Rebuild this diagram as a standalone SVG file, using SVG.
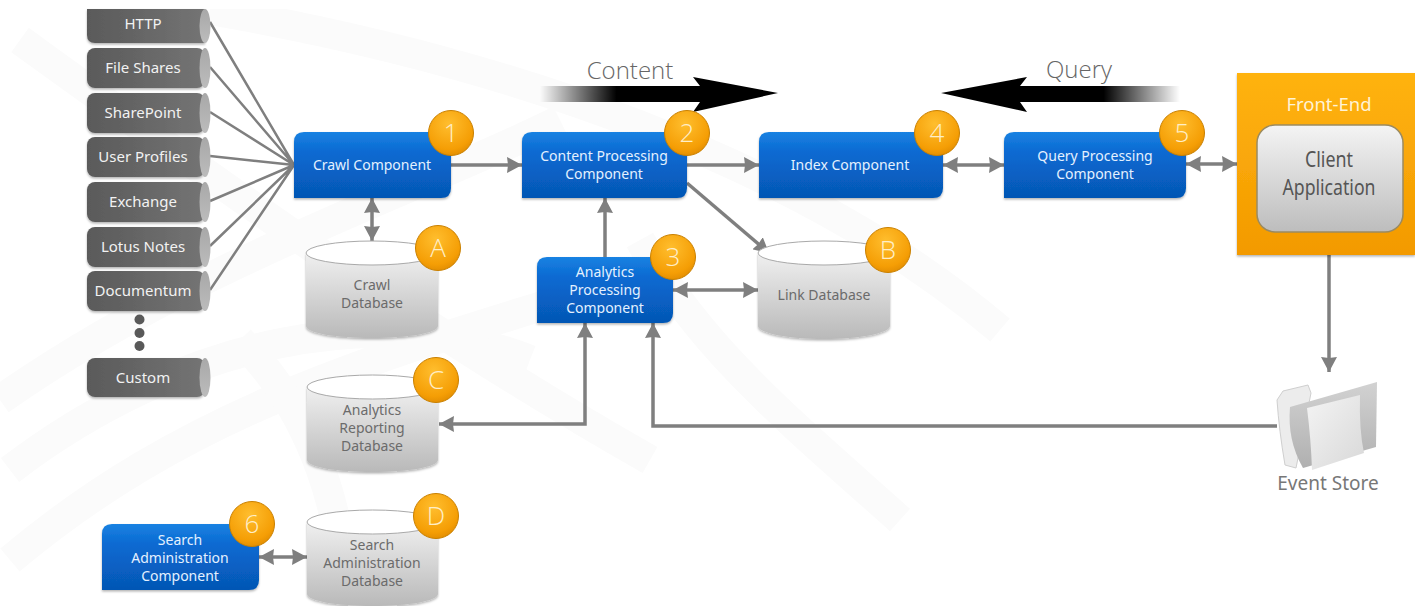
<svg xmlns="http://www.w3.org/2000/svg" width="1415" height="606" viewBox="0 0 1415 606">
<defs>
<linearGradient id="gBlue" x1="0" y1="0" x2="0" y2="1"><stop offset="0" stop-color="#1a82e2"/><stop offset="0.3" stop-color="#0a6ad2"/><stop offset="1" stop-color="#0556b4"/></linearGradient>
<linearGradient id="gPill" x1="0" y1="0" x2="1" y2="0"><stop offset="0" stop-color="#5a5a5a"/><stop offset="1" stop-color="#747474"/></linearGradient>
<linearGradient id="gCap" x1="0" y1="0" x2="0" y2="1"><stop offset="0" stop-color="#a8a8a8"/><stop offset="1" stop-color="#bcbcbc"/></linearGradient>
<linearGradient id="gDb" x1="0" y1="0" x2="0" y2="1"><stop offset="0" stop-color="#f0f0f0"/><stop offset="1" stop-color="#b9b9b9"/></linearGradient>
<linearGradient id="gFront" x1="0" y1="0" x2="0" y2="1"><stop offset="0" stop-color="#ffb30f"/><stop offset="1" stop-color="#f39a00"/></linearGradient>
<linearGradient id="gClient" x1="0" y1="0" x2="0" y2="1"><stop offset="0" stop-color="#f4f4f4"/><stop offset="1" stop-color="#bdbdbd"/></linearGradient>
<radialGradient id="gBadge" cx="0.45" cy="0.3" r="0.8"><stop offset="0" stop-color="#ffbe2e"/><stop offset="0.7" stop-color="#f59e05"/><stop offset="1" stop-color="#d98500"/></radialGradient>
<linearGradient id="gBarR" x1="0" y1="0" x2="1" y2="0"><stop offset="0" stop-color="#000" stop-opacity="0"/><stop offset="0.45" stop-color="#000"/><stop offset="1" stop-color="#000"/></linearGradient>
<linearGradient id="gBarL" x1="1" y1="0" x2="0" y2="0"><stop offset="0" stop-color="#000" stop-opacity="0"/><stop offset="0.45" stop-color="#000"/><stop offset="1" stop-color="#000"/></linearGradient>
<linearGradient id="gFolder" x1="0" y1="0" x2="0" y2="1"><stop offset="0" stop-color="#d2d2d2"/><stop offset="1" stop-color="#b0b0b0"/></linearGradient>
<linearGradient id="gPaper" x1="0" y1="0" x2="1" y2="1"><stop offset="0" stop-color="#f4f4f4"/><stop offset="1" stop-color="#d8d8d8"/></linearGradient>
<filter id="sh" x="-5%" y="-5%" width="110%" height="115%"><feDropShadow dx="0" dy="1.500" stdDeviation="1.200" flood-color="#000" flood-opacity="0.3"/></filter>
<marker id="ah" markerUnits="userSpaceOnUse" markerWidth="16" markerHeight="16" refX="15" refY="8" orient="auto-start-reverse"><path d="M0 0L15 8L0 16L1 8Z" fill="#7f7f7f"/></marker>
<style>
text{font-family:"Noto Sans","Open Sans","Liberation Sans",sans-serif;text-anchor:middle}
.bg{fill:none;stroke:#fbfbfb;stroke-width:30}
.c{fill:none;stroke:#7f7f7f;stroke-width:3.5}
.a{marker-end:url(#ah)}
.b{marker-start:url(#ah);marker-end:url(#ah)}
.f{fill:none;stroke:#7f7f7f;stroke-width:2.5}
.blue{fill:url(#gBlue);filter:url(#sh)}
.bt{fill:#e4f1ff;font-size:14px}
.pill{fill:url(#gPill);filter:url(#sh)}
.cap{fill:url(#gCap)}
.pt{fill:#f2f2f2;font-size:15px}
.db{fill:url(#gDb);filter:url(#sh)}
.dbtop{fill:#fff;stroke:#a9a9a9;stroke-width:1}
.dt{fill:#6b6b6b;font-size:14px}
.bd{fill:url(#gBadge);stroke:#c98000;stroke-width:1}
.bn{fill:#ffeec8;font-size:26px;font-weight:300;font-family:"Open Sans","Noto Sans",sans-serif}
.dot{fill:#595959}
.lt{font-family:"Open Sans","Noto Sans",sans-serif;font-weight:300;fill:#666;font-size:24px}
</style>
</defs>
<rect width="1415" height="606" fill="#fff"/>
<g id="background">
<path class="bg" d="M20 40C200 170 420 330 650 460"/>
<path class="bg" d="M210 10C500 60 800 160 1000 330"/>
<path class="bg" d="M0 400C200 260 420 190 560 120"/>
<path class="bg" d="M10 470C180 340 380 300 530 360"/>
<path class="bg" d="M10 560C200 400 400 350 660 270"/>
<path class="bg" d="M240 340C320 420 340 520 350 606"/>
<path class="bg" d="M640 240C700 350 800 430 900 520"/>
<rect x="0" y="0" width="1415" height="9" fill="#fff"/>
</g>
<g id="connectors">
<path class="f" d="M210 22L294 165M210 67L294 165M210 112L294 165M210 156L294 165M210 201L294 165M210 246L294 165M210 290L294 165"/>
<path class="c a" d="M451 165H522"/>
<path class="c b" d="M372 198V241"/>
<path class="c a" d="M687 165H759"/>
<path class="c b" d="M943 165H1004"/>
<path class="c b" d="M1186 164H1237"/>
<path class="c a" d="M687 183L769 253"/>
<path class="c a" d="M605 257V198"/>
<path class="c b" d="M673 290H758"/>
<path class="c b" d="M585 323V424H439"/>
<path class="c a" d="M1277 426H653V323"/>
<path class="c a" d="M1329 255V372"/>
<path class="c b" d="M259 557H307"/>
</g>
<g id="flow-content">
<rect x="540" y="86" width="170" height="16" fill="url(#gBarR)"/>
<path d="M693 77L778 93L693 112L700 102V86Z" fill="#000"/>
<text class="lt" x="630" y="79">Content</text>
</g>
<g id="flow-query">
<rect x="1010" y="86" width="170" height="16" fill="url(#gBarL)"/>
<path d="M1027 77L941 93L1027 112L1020 102V86Z" fill="#000"/>
<text class="lt" x="1079" y="78">Query</text>
</g>
<g id="src-http"><path class="pill" d="M87 9H205V43H95Q87 43 87 35Z"/><ellipse class="cap" cx="205" cy="26" rx="5.500" ry="17"/><text class="pt" x="143" y="29">HTTP</text></g>
<g id="src-fileshares"><rect class="pill" x="87" y="48" width="118" height="40" rx="8"/><ellipse class="cap" cx="205" cy="68" rx="5.500" ry="20"/><text class="pt" x="143" y="73">File Shares</text></g>
<g id="src-sharepoint"><rect class="pill" x="87" y="93" width="118" height="40" rx="8"/><ellipse class="cap" cx="205" cy="113" rx="5.500" ry="20"/><text class="pt" x="143" y="118">SharePoint</text></g>
<g id="src-userprofiles"><rect class="pill" x="87" y="137" width="118" height="40" rx="8"/><ellipse class="cap" cx="205" cy="157" rx="5.500" ry="20"/><text class="pt" x="143" y="162">User Profiles</text></g>
<g id="src-exchange"><rect class="pill" x="87" y="182" width="118" height="40" rx="8"/><ellipse class="cap" cx="205" cy="202" rx="5.500" ry="20"/><text class="pt" x="143" y="207">Exchange</text></g>
<g id="src-lotusnotes"><rect class="pill" x="87" y="227" width="118" height="40" rx="8"/><ellipse class="cap" cx="205" cy="247" rx="5.500" ry="20"/><text class="pt" x="143" y="252">Lotus Notes</text></g>
<g id="src-documentum"><rect class="pill" x="87" y="271" width="118" height="40" rx="8"/><ellipse class="cap" cx="205" cy="291" rx="5.500" ry="20"/><text class="pt" x="143" y="296">Documentum</text></g>
<g id="src-dots"><circle class="dot" cx="139.500" cy="319.500" r="5"/><circle class="dot" cx="139.500" cy="333" r="5"/><circle class="dot" cx="139.500" cy="346" r="5"/></g>
<g id="src-custom"><rect class="pill" x="87" y="358" width="118" height="39" rx="8"/><ellipse class="cap" cx="205" cy="377.500" rx="5.500" ry="19.500"/><text class="pt" x="143" y="383">Custom</text></g>
<g id="crawl-component"><path class="blue" d="M304 132H451V188Q451 198 441 198H294V142Q294 132 304 132Z"/><text class="bt" x="372" y="170">Crawl Component</text></g>
<g id="content-processing"><path class="blue" d="M532 132H687V188Q687 198 677 198H522V142Q522 132 532 132Z"/><text class="bt" x="604" y="161">Content Processing</text><text class="bt" x="604" y="179">Component</text></g>
<g id="index-component"><path class="blue" d="M769 132H943V188Q943 198 933 198H759V142Q759 132 769 132Z"/><text class="bt" x="850" y="170">Index Component</text></g>
<g id="query-processing"><path class="blue" d="M1014 132H1186V188Q1186 198 1176 198H1004V142Q1004 132 1014 132Z"/><text class="bt" x="1095" y="161">Query Processing</text><text class="bt" x="1095" y="179">Component</text></g>
<g id="analytics-processing"><path class="blue" d="M547 257H673V313Q673 323 663 323H537V267Q537 257 547 257Z"/><text class="bt" x="605" y="277">Analytics</text><text class="bt" x="605" y="295">Processing</text><text class="bt" x="605" y="313">Component</text></g>
<g id="search-admin"><path class="blue" d="M112 524H259V580Q259 590 249 590H102V534Q102 524 112 524Z"/><text class="bt" x="180" y="545">Search</text><text class="bt" x="180" y="563">Administration</text><text class="bt" x="180" y="581">Component</text></g>
<g id="crawl-db"><path class="db" d="M306 253V326C306 333 336 338 372 338S438 333 438 326V253Z"/><ellipse class="dbtop" cx="372" cy="253" rx="66" ry="12"/><text class="dt" x="372" y="290">Crawl</text><text class="dt" x="372" y="308">Database</text></g>
<g id="link-db"><path class="db" d="M758 253V326C758 333 788 339 824 339S890 333 890 326V253Z"/><ellipse class="dbtop" cx="824" cy="253" rx="66" ry="12"/><text class="dt" x="824" y="300">Link Database</text></g>
<g id="analytics-db"><path class="db" d="M307 387V460C307 467 337 472 372.500 472S438 467 438 460V387Z"/><ellipse class="dbtop" cx="372.500" cy="387" rx="65.500" ry="12"/><text class="dt" x="372" y="415">Analytics</text><text class="dt" x="372" y="433">Reporting</text><text class="dt" x="372" y="451">Database</text></g>
<g id="search-db"><path class="db" d="M307 522V594C307 601 337 606 372.500 606S438 601 438 594V522Z"/><ellipse class="dbtop" cx="372.500" cy="522" rx="65.500" ry="12"/><text class="dt" x="372" y="550">Search</text><text class="dt" x="372" y="568">Administration</text><text class="dt" x="372" y="586">Database</text></g>
<g id="front-end"><rect x="1237" y="73" width="178" height="182" fill="url(#gFront)" filter="url(#sh)"/><text x="1329" y="111" font-size="18.500" fill="#fff3d6">Front-End</text><rect x="1257" y="125" width="146" height="107" rx="18" fill="url(#gClient)" stroke="#9a8a60" stroke-width="1.500"/><text x="1329" y="167" font-size="21" fill="#555" textLength="48" lengthAdjust="spacingAndGlyphs">Client</text><text x="1329" y="195" font-size="21" fill="#555" textLength="93" lengthAdjust="spacingAndGlyphs">Application</text></g>
<g id="event-store"><path d="M1277 400L1283 391L1308 385L1311 393L1296 468L1285 465Q1279 430 1277 400Z" fill="#ececec" stroke="#cfcfcf"/><path d="M1290 407L1377 382L1376 447L1303 468Q1287 440 1290 407Z" fill="url(#gFolder)"/><path d="M1307 408L1360 395Q1359 430 1364 453L1312 470Q1311 440 1307 408Z" fill="url(#gPaper)"/><text x="1328" y="490" font-size="19" fill="#777">Event Store</text></g>
<g id="badges">
<g id="badge-1"><circle class="bd" cx="451" cy="133" r="22.500"/><text class="bn" x="451" y="142">1</text></g>
<g id="badge-2"><circle class="bd" cx="687" cy="133" r="22.500"/><text class="bn" x="687" y="142">2</text></g>
<g id="badge-3"><circle class="bd" cx="673" cy="257" r="22.500"/><text class="bn" x="673" y="266">3</text></g>
<g id="badge-4"><circle class="bd" cx="937" cy="133" r="22.500"/><text class="bn" x="937" y="142">4</text></g>
<g id="badge-5"><circle class="bd" cx="1182" cy="133" r="22.500"/><text class="bn" x="1182" y="142">5</text></g>
<g id="badge-6"><circle class="bd" cx="252" cy="524" r="22.500"/><text class="bn" x="252" y="533">6</text></g>
<g id="badge-a"><circle class="bd" cx="438" cy="248" r="22.500"/><text class="bn" x="438" y="257">A</text></g>
<g id="badge-b"><circle class="bd" cx="888" cy="250" r="22.500"/><text class="bn" x="888" y="259">B</text></g>
<g id="badge-c"><circle class="bd" cx="436" cy="380" r="22.500"/><text class="bn" x="436" y="389">C</text></g>
<g id="badge-d"><circle class="bd" cx="436" cy="516" r="22.500"/><text class="bn" x="436" y="525">D</text></g>
</g>
</svg>
